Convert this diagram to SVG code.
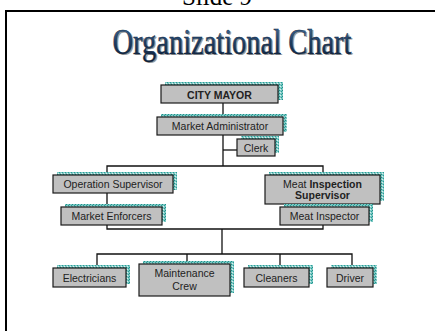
<svg xmlns="http://www.w3.org/2000/svg" width="435" height="331" viewBox="0 0 435 331">
<style>
.box{fill:#c0c0c0;stroke:#1a1a1a;stroke-width:1.2}
.sh{fill:url(#speck)}
.t{font-family:"Liberation Sans",Arial,sans-serif;font-size:10.5px;fill:#222;text-anchor:middle}
.b{font-weight:bold}
.ln{fill:none;stroke:#111;stroke-width:1.3}
</style>
<defs>
<pattern id="speck" width="3" height="3" patternUnits="userSpaceOnUse">
<rect width="3" height="3" fill="#7cc9c4"/>
<rect width="1" height="1" fill="#1f8f8a"/>
<rect x="2" y="1" width="1" height="1" fill="#2a9d98"/>
<rect x="1" y="2" width="1" height="1" fill="#d8efee"/>
</pattern>
<linearGradient id="tg" x1="0" y1="0" x2="0" y2="1">
<stop offset="0" stop-color="#4a78a8"/>
<stop offset="0.5" stop-color="#1e3d63"/>
<stop offset="1" stop-color="#0d1f38"/>
</linearGradient>
</defs>
<rect width="435" height="331" fill="#fff"/>
<text x="217" y="4.5" font-family="'Liberation Serif','Times New Roman',serif" font-size="25" text-anchor="middle" fill="#000">Slide 9</text>
<path d="M6 340 V11 H440" fill="none" stroke="#000" stroke-width="2"/>
<g id="title">
<text x="233.5" y="55" font-family="'Liberation Serif','Times New Roman',serif" font-size="35" text-anchor="middle" fill="#9a9a9a" textLength="239" lengthAdjust="spacingAndGlyphs">Organizational Chart</text>
<text x="232" y="53.5" font-family="'Liberation Serif','Times New Roman',serif" font-size="35" text-anchor="middle" fill="url(#tg)" stroke="#0d1f38" stroke-width="0.4" textLength="239" lengthAdjust="spacingAndGlyphs">Organizational Chart</text>
</g>
<g id="connectors">
<path class="ln" d="M223 103 V166"/>
<path class="ln" d="M223 150 H237"/>
<path class="ln" d="M107 166 H323 V229 H107 Z"/>
<path class="ln" d="M222 229 V254"/>
<path class="ln" d="M97 268 V254 H352 V268"/>
<path class="ln" d="M187 254 V264"/>
<path class="ln" d="M280 254 V268"/>
</g>
<g id="mayor">
<rect class="sh" x="165" y="82" width="118" height="18"/>
<rect class="box" x="161" y="85" width="117" height="18"/>
<text class="t b" x="219.5" y="98.5" font-size="11">CITY MAYOR</text>
</g>
<g id="admin">
<rect class="sh" x="161" y="114" width="126" height="18"/>
<rect class="box" x="157" y="117" width="126" height="18"/>
<text class="t" x="220" y="130">Market Administrator</text>
</g>
<g id="clerk">
<rect class="sh" x="241" y="136" width="38" height="17"/>
<rect class="box" x="237" y="139" width="38" height="17"/>
<text class="t" x="256" y="151.5">Clerk</text>
</g>
<g id="opsup">
<rect class="sh" x="57" y="172" width="120" height="18"/>
<rect class="box" x="53" y="175" width="120" height="18"/>
<text class="t" x="113" y="188">Operation Supervisor</text>
</g>
<g id="enforcers">
<rect class="sh" x="65" y="204" width="101" height="18"/>
<rect class="box" x="61" y="207" width="101" height="18"/>
<text class="t" x="111.5" y="220">Market Enforcers</text>
</g>
<g id="meatsup">
<rect class="sh" x="269" y="172" width="115" height="29"/>
<rect class="box" x="265" y="175" width="115" height="29"/>
<text class="t" x="322.5" y="187.5">Meat <tspan class="b">Inspection</tspan></text>
<text class="t b" x="322.5" y="199">Supervisor</text>
</g>
<g id="meatinsp">
<rect class="sh" x="284" y="204" width="89" height="18"/>
<rect class="box" x="280" y="207" width="89" height="18"/>
<text class="t" x="324.5" y="220">Meat Inspector</text>
</g>
<g id="electricians">
<rect class="sh" x="57" y="265" width="73" height="19"/>
<rect class="box" x="53" y="268" width="73" height="19"/>
<text class="t" x="89.5" y="281.5">Electricians</text>
</g>
<g id="maintenance">
<rect class="sh" x="143" y="261" width="91" height="32"/>
<rect class="box" x="139" y="264" width="91" height="32"/>
<text class="t" x="184.5" y="277">Maintenance</text>
<text class="t" x="184.5" y="289.5">Crew</text>
</g>
<g id="cleaners">
<rect class="sh" x="248" y="265" width="65" height="19"/>
<rect class="box" x="244" y="268" width="65" height="19"/>
<text class="t" x="276.5" y="281.5">Cleaners</text>
</g>
<g id="driver">
<rect class="sh" x="331" y="265" width="46" height="19"/>
<rect class="box" x="327" y="268" width="46" height="19"/>
<text class="t" x="350" y="281.5">Driver</text>
</g>
</svg>
